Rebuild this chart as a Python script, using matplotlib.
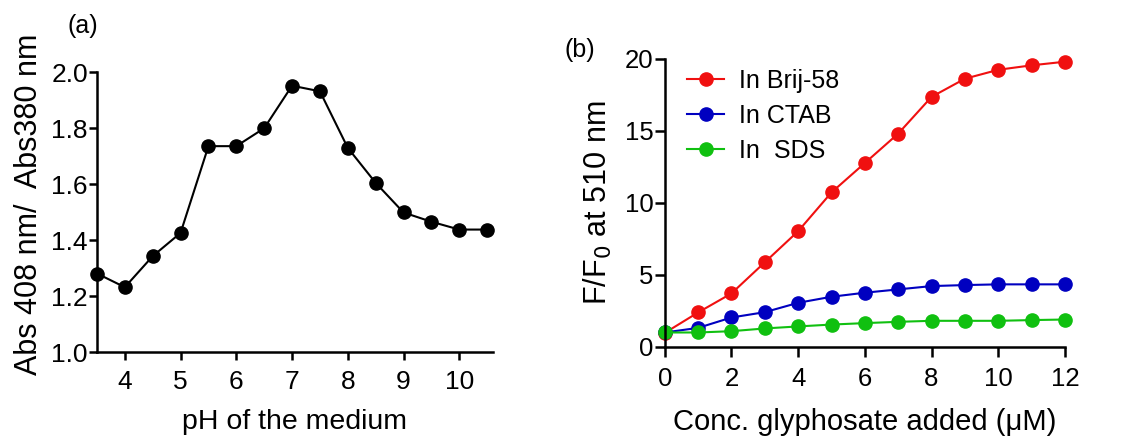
import matplotlib
matplotlib.use("Agg")
import matplotlib.pyplot as plt

plt.rcParams['font.family'] = ['Liberation Sans', 'DejaVu Sans']

# panel (a): absorbance ratio vs pH
ph = [3.5, 4, 4.5, 5, 5.5, 6, 6.5, 7, 7.5, 8, 8.5, 9, 9.5, 10, 10.5]
abs_ratio = [1.281, 1.232, 1.343, 1.426, 1.736, 1.736, 1.800, 1.952, 1.932,
             1.730, 1.605, 1.499, 1.466, 1.438, 1.438]

# panel (b): fluorescence enhancement vs glyphosate conc.
conc = [0, 1, 2, 3, 4, 5, 6, 7, 8, 9, 10, 11, 12]
brij = [0.97, 2.39, 3.71, 5.87, 8.03, 10.72, 12.76, 14.80, 17.35, 18.61, 19.23, 19.54, 19.79]
ctab = [1.0, 1.32, 2.04, 2.41, 3.06, 3.48, 3.76, 3.99, 4.22, 4.29, 4.34, 4.34, 4.34]
sds = [1.0, 1.0, 1.09, 1.28, 1.42, 1.55, 1.65, 1.74, 1.81, 1.81, 1.81, 1.86, 1.90]

fig = plt.figure(figsize=(11.21, 4.38), dpi=100)
ax1 = fig.add_axes([0.0865, 0.196, 0.353, 0.639])
ax2 = fig.add_axes([0.593, 0.208, 0.357, 0.658])

def style(ax, size, ticklen, xpad):
    for s in ['top', 'right']:
        ax.spines[s].set_visible(False)
    for s in ['left', 'bottom']:
        ax.spines[s].set_linewidth(1.8)
    ax.tick_params(width=1.8, length=ticklen, labelsize=size, direction='out')
    ax.tick_params(axis='y', pad=1)
    ax.tick_params(axis='x', pad=xpad)

ax1.plot(ph, abs_ratio, color='black', lw=1.5, marker='o', ms=9.5, clip_on=False)
ax1.set_xlim(3.5, 10.6)
ax1.set_ylim(1.0, 2.0)
ax1.set_xticks([4, 5, 6, 7, 8, 9, 10])
ax1.set_yticks([1.0, 1.2, 1.4, 1.6, 1.8, 2.0])
ax1.set_yticklabels(['1.0', '1.2', '1.4', '1.6', '1.8', '2.0'])
style(ax1, 19, 5.5, 7.5)
ax1.set_xlabel('pH of the medium', fontsize=20.5, labelpad=11)
ax1.set_ylabel('Abs 408 nm/  Abs380 nm', fontsize=22)
ax1.yaxis.set_label_coords(-0.135, 0.53)
fig.text(0.060, 0.925, '(a)', fontsize=18)

ax2.plot(conc, brij, color='#f01010', lw=1.5, marker='o', ms=9.5, clip_on=False, label='In Brij-58')
ax2.plot(conc, ctab, color='#0000c0', lw=1.5, marker='o', ms=9.5, clip_on=False, label='In CTAB')
ax2.plot(conc, sds, color='#10c010', lw=1.5, marker='o', ms=9.5, clip_on=False, label='In  SDS')
ax2.set_xlim(0, 12)
ax2.set_ylim(0, 20)
ax2.set_xticks(range(0, 13, 2))
ax2.set_yticks([0, 5, 10, 15, 20])
style(ax2, 18.5, 7, 7.5)
ax2.set_xlabel('Conc. glyphosate added (\u03bcM)', fontsize=21, labelpad=12)
ax2.set_ylabel('F/F$_0$ at 510 nm', fontsize=22, labelpad=8)
ax2.legend(loc='upper left', bbox_to_anchor=(0.03, 1.0), frameon=False, fontsize=18,
           handlelength=1.5, handletextpad=0.6, labelspacing=0.45, borderaxespad=0)
fig.text(0.504, 0.87, '(b)', fontsize=18)

fig.savefig('out.png', dpi=100)
